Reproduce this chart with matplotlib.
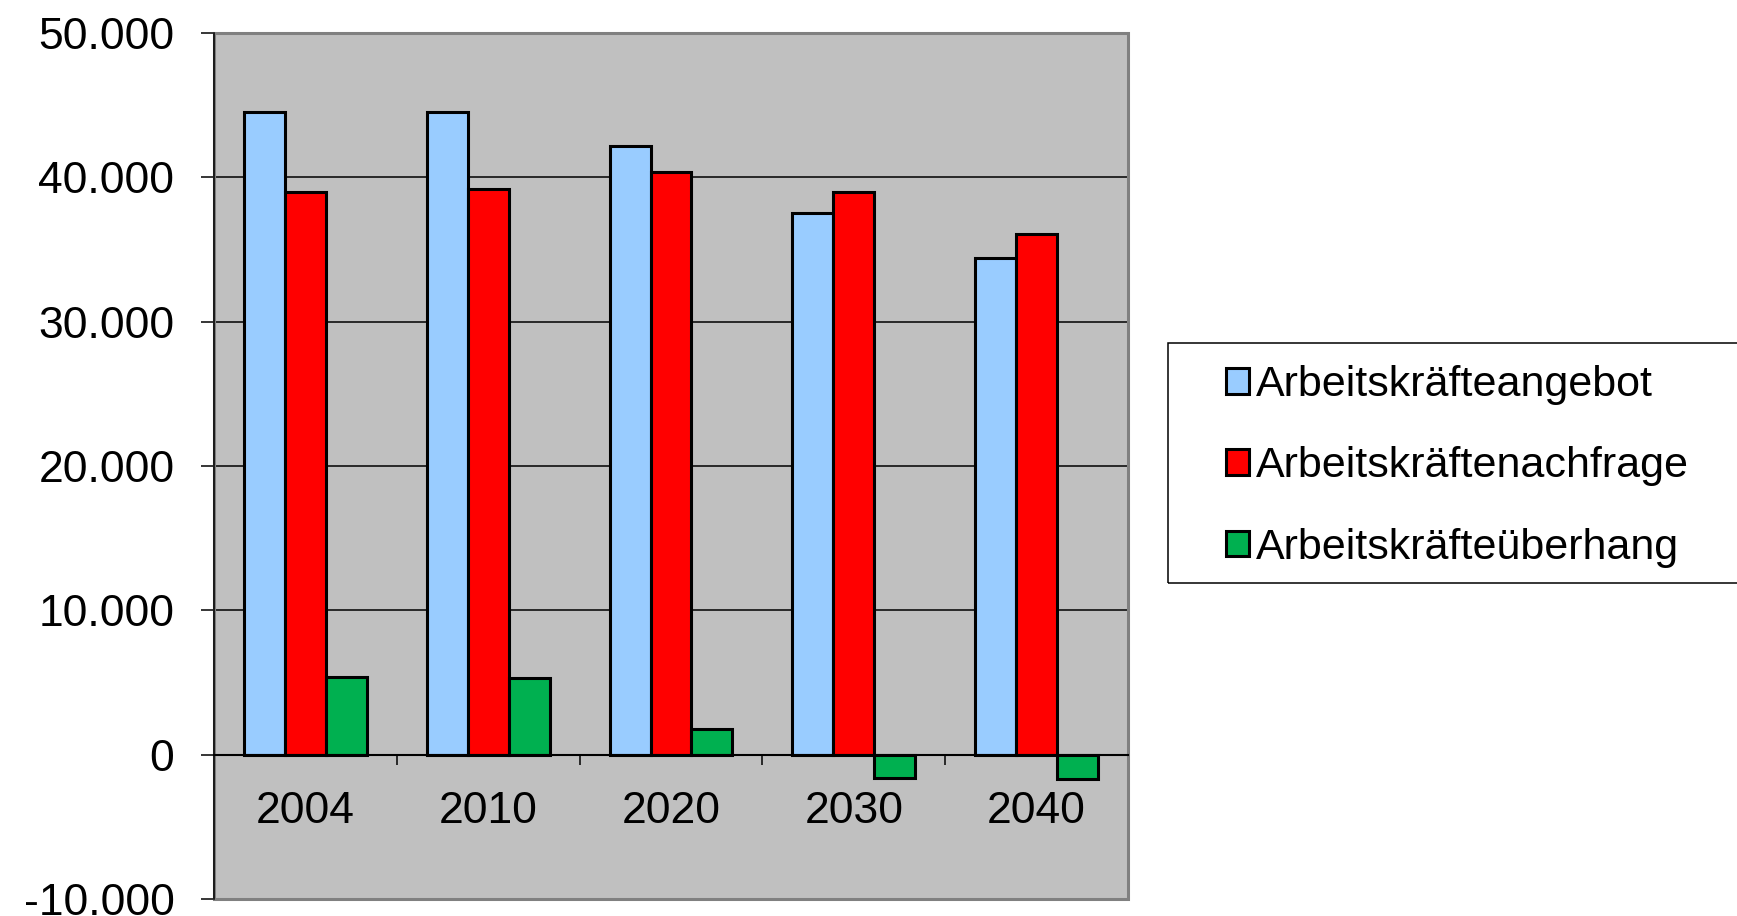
import numpy as np
import matplotlib
matplotlib.use("Agg")
import matplotlib.pyplot as plt
from matplotlib.patches import Rectangle

plt.rcParams['font.family'] = ['Liberation Sans', 'DejaVu Sans']

# data
years = ['2004', '2010', '2020', '2030', '2040']
angebot = [44500, 44500, 42200, 37500, 34400]
nachfrage = [39000, 39200, 40400, 39000, 36100]
ueberhang = [5400, 5300, 1800, -1600, -1700]
series = [angebot, nachfrage, ueberhang]
names = ['Arbeitskräfteangebot', 'Arbeitskräftenachfrage', 'Arbeitskräfteüberhang']
colors = ['#99ccff', '#ff0000', '#00b050']
yticks = [-10000, 0, 10000, 20000, 30000, 40000, 50000]

W, H = 1737, 916
def fx(p):
    return p / W
def fy(p):
    return 1 - p / H

fig = plt.figure(figsize=(W / 100, H / 100), dpi=100)
ax = fig.add_axes([fx(214), fy(899), fx(1128) - fx(214), fy(33) - fy(899)])
ax.set_facecolor('#c0c0c0')

x = np.arange(len(years))
w = 0.224
for j, (vals, name, col) in enumerate(zip(series, names, colors)):
    ax.bar(x + (j - 1) * w, vals, width=w, color=col, edgecolor='black',
           linewidth=2.2, label=name, zorder=2)

ax.set_xlim(-0.5, len(years) - 0.5)
ax.set_ylim(yticks[0], yticks[-1])

# y axis
ax.set_yticks(yticks)
ax.set_yticklabels([f"{v:,.0f}".replace(',', '.') for v in yticks])
ax.tick_params(axis='y', direction='out', length=9.5, width=1.1, pad=19,
               labelsize=32, colors='black')
ax.yaxis.grid(True, color='black', linewidth=1.1)
ax.set_axisbelow(True)

# category axis sits on the zero line
ax.set_xticks(x)
ax.set_xticklabels(years)
ax.set_xticks(np.arange(len(years) + 1) - 0.5, minor=True)
ax.tick_params(axis='x', which='major', length=0, pad=26, labelsize=32)
ax.tick_params(axis='x', which='minor', direction='out', length=7, width=1.1)

for s in ['top', 'right']:
    ax.spines[s].set_visible(False)
ax.spines['bottom'].set_position(('data', 0))
ax.spines['bottom'].set_color('black')
ax.spines['bottom'].set_linewidth(1.5)
ax.spines['bottom'].set_zorder(3)
ax.spines['left'].set_color('black')
ax.spines['left'].set_linewidth(1.1)

# plot area border
ax.add_patch(Rectangle((0, 0), 1, 1, transform=ax.transAxes, fill=False,
                       edgecolor='#808080', linewidth=2.2, zorder=1, clip_on=False))

# legend
ax.legend(loc='upper left', bbox_to_anchor=(fx(1211), fy(350)),
          bbox_transform=fig.transFigure, frameon=False, fontsize=31,
          handlelength=0.53, handleheight=0.53, handletextpad=0.16,
          labelspacing=0.96, borderpad=0.35, borderaxespad=0)
fig.add_artist(Rectangle((fx(1168), fy(583)), fx(1760) - fx(1168), fy(343) - fy(583),
                         transform=fig.transFigure, fill=False,
                         edgecolor='black', linewidth=1.1))

fig.savefig('out.png', dpi=100)
